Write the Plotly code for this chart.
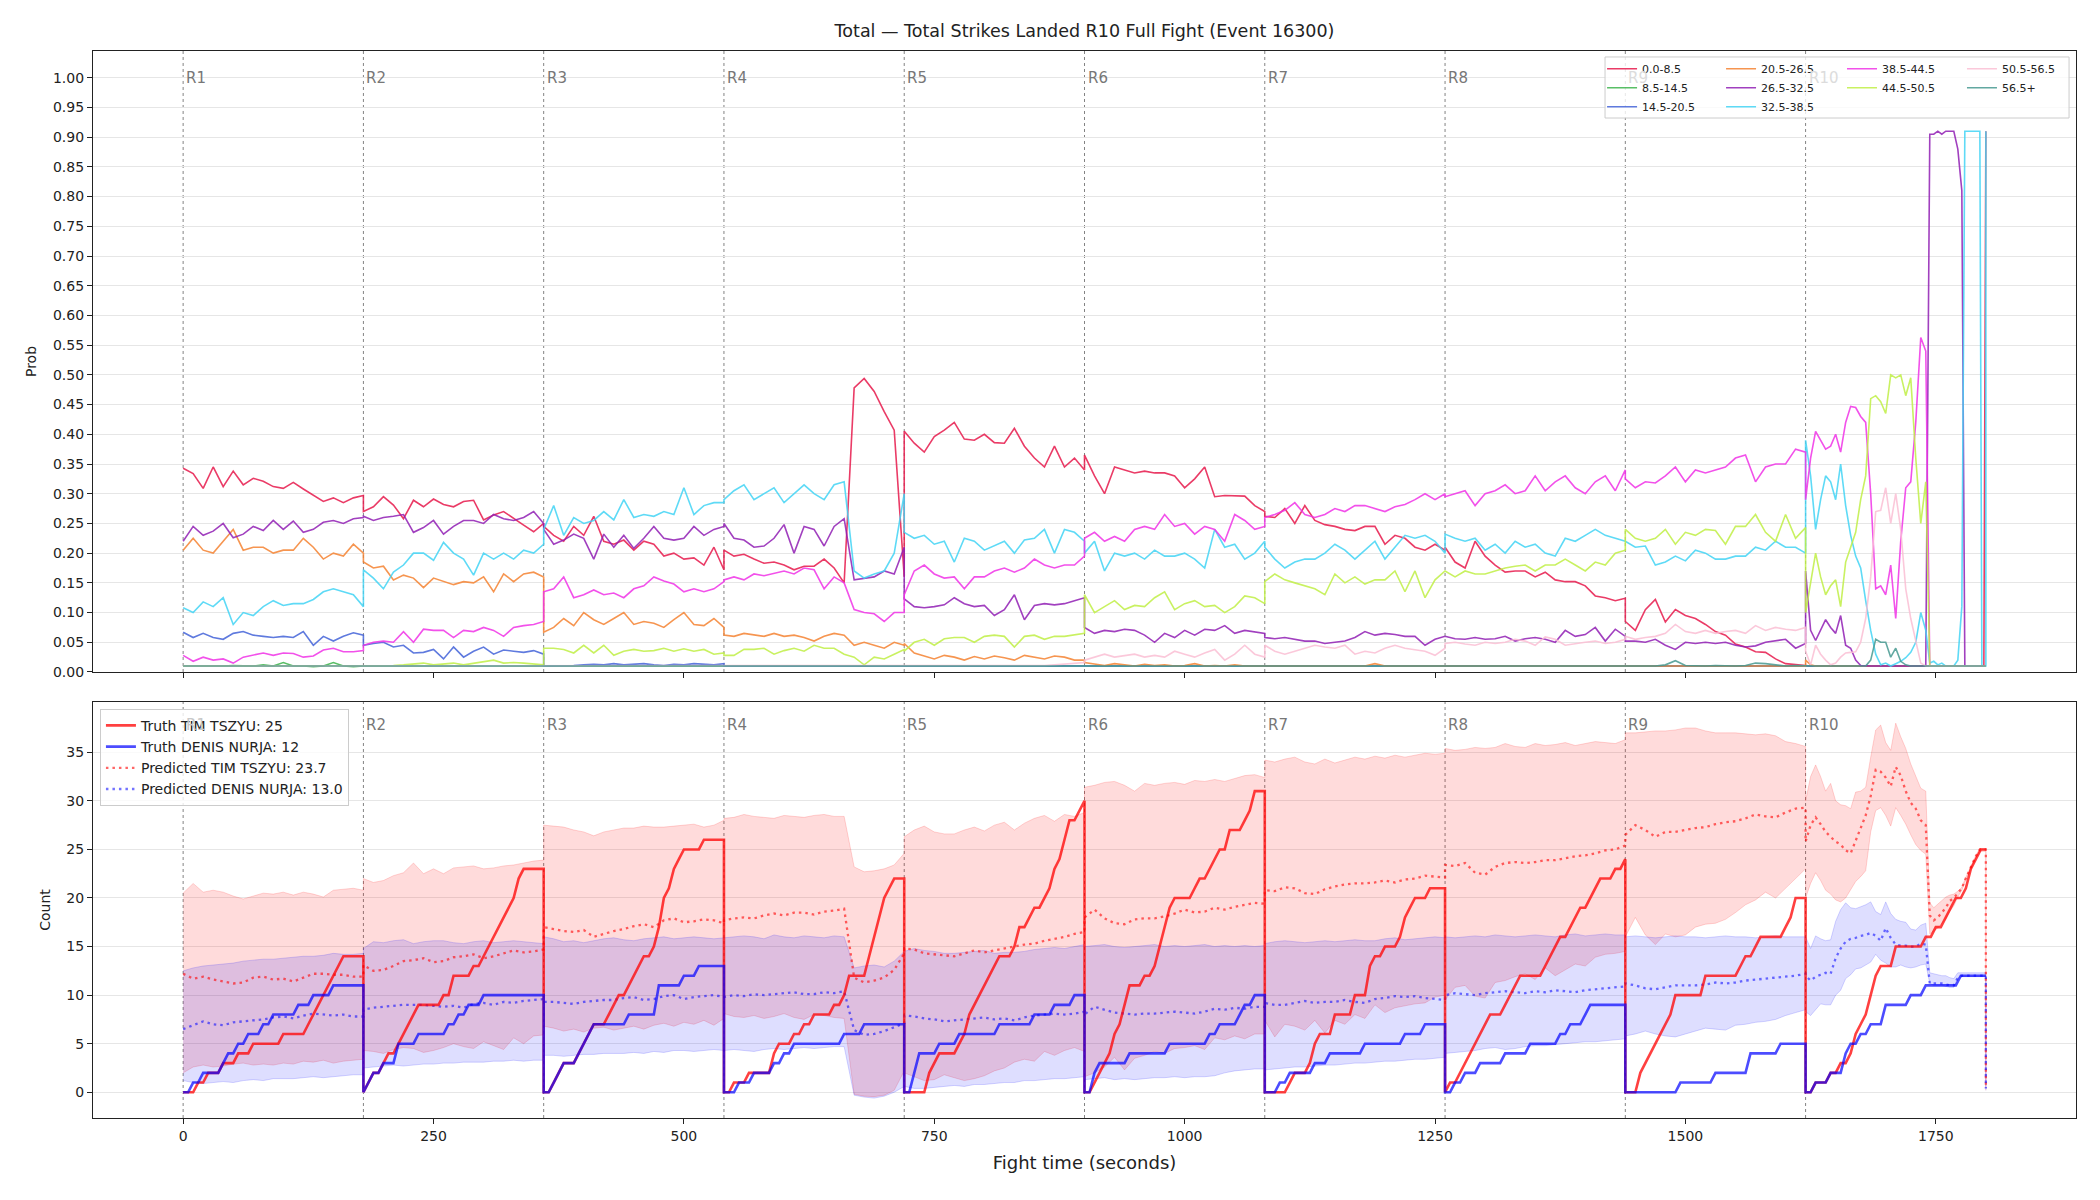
import plotly.graph_objects as go

# ---------------------------------------------------------------------------
# Time grids
# ---------------------------------------------------------------------------
round_starts = [0, 180, 360, 540, 720, 900, 1080, 1260, 1440, 1620]
round_names = ["R1", "R2", "R3", "R4", "R5", "R6", "R7", "R8", "R9", "R10"]
offsets_10s = [0, 10, 20, 30, 40, 50, 60, 70, 80, 90, 100, 110, 120, 130, 140, 150, 160, 170, 180]
r10_times = [1620, 1625, 1630, 1635, 1640, 1645, 1650, 1655, 1660, 1665, 1670, 1675, 1680,
             1685, 1690, 1695, 1700, 1705, 1710, 1715, 1720, 1725, 1730, 1735, 1740,
             1744, 1748, 1752, 1756, 1760, 1764, 1768, 1772, 1776, 1779, 1782, 1786, 1790,
             1794, 1796, 1798, 1800, 1800]
t_model = [s + o for s in round_starts[:9] for o in offsets_10s] + r10_times
truth_offsets = [0, 5, 10, 15, 20, 25, 30, 35, 40, 45, 50, 55, 60, 65, 70, 75, 80, 85, 90,
                 95, 100, 105, 110, 115, 120, 125, 130, 135, 140, 145, 150, 155, 160, 165,
                 170, 175, 180]

x_ticks = [0, 250, 500, 750, 1000, 1250, 1500, 1750]
y_ticks_top = [0.00, 0.05, 0.10, 0.15, 0.20, 0.25, 0.30, 0.35, 0.40, 0.45, 0.50, 0.55,
               0.60, 0.65, 0.70, 0.75, 0.80, 0.85, 0.90, 0.95, 1.00]
y_ticks_bottom = [0, 5, 10, 15, 20, 25, 30, 35]

# ---------------------------------------------------------------------------
# Probability of each total-strikes bin (top panel)
# ---------------------------------------------------------------------------
bins = ["0.0-8.5", "8.5-14.5", "14.5-20.5", "20.5-26.5", "26.5-32.5",
        "32.5-38.5", "38.5-44.5", "44.5-50.5", "50.5-56.5", "56.5+"]
bin_colors = ["rgba(230,25,75,0.85)", "rgba(60,180,75,0.85)", "rgba(67,99,216,0.85)",
              "rgba(245,130,49,0.85)", "rgba(145,30,180,0.85)", "rgba(66,212,244,0.85)",
              "rgba(240,50,230,0.85)", "rgba(191,239,69,0.85)", "rgba(250,190,212,0.85)",
              "rgba(70,153,144,0.85)"]

FLOOR_RD = [0.01, 0.01, 0.01, 0.01, 0.01, 0.01, 0.01, 0.01, 0.01, 0.01,
            0.01, 0.01, 0.01, 0.01, 0.01, 0.01, 0.01, 0.01, 0.01]
FLOOR_R10 = [0.01, 0.01, 0.01, 0.01, 0.01, 0.01, 0.01, 0.01, 0.01, 0.01, 0.01,
             0.01, 0.01, 0.01, 0.01, 0.01, 0.01, 0.01, 0.01, 0.01, 0.01, 0.01,
             0.01, 0.01, 0.01, 0.01, 0.01, 0.01, 0.01, 0.01, 0.01, 0.01, 0.01,
             0.01, 0.01, 0.01, 0.01, 0.01, 0.01, 0.01, 0.01, 0.01, 0.01]

prob_0_8 = [
    [0.343, 0.334, 0.309, 0.345, 0.312, 0.338, 0.315, 0.326, 0.321, 0.312, 0.309, 0.319, 0.308, 0.298, 0.287, 0.293, 0.285, 0.293, 0.297],
    [0.270, 0.278, 0.295, 0.281, 0.258, 0.289, 0.278, 0.291, 0.282, 0.278, 0.287, 0.289, 0.256, 0.264, 0.270, 0.258, 0.247, 0.236, 0.250],
    [0.245, 0.230, 0.220, 0.245, 0.230, 0.262, 0.220, 0.215, 0.222, 0.205, 0.220, 0.215, 0.195, 0.200, 0.190, 0.192, 0.180, 0.210, 0.172],
    [0.205, 0.195, 0.198, 0.190, 0.183, 0.185, 0.180, 0.172, 0.178, 0.178, 0.190, 0.175, 0.150, 0.478, 0.494, 0.472, 0.438, 0.407, 0.160],
    [0.405, 0.385, 0.370, 0.396, 0.407, 0.420, 0.392, 0.390, 0.400, 0.386, 0.385, 0.410, 0.380, 0.360, 0.345, 0.380, 0.345, 0.360, 0.340],
    [0.365, 0.330, 0.300, 0.345, 0.340, 0.335, 0.338, 0.335, 0.335, 0.330, 0.310, 0.325, 0.345, 0.295, 0.297, 0.297, 0.296, 0.280, 0.270],
    [0.262, 0.260, 0.275, 0.250, 0.280, 0.255, 0.248, 0.245, 0.240, 0.238, 0.245, 0.245, 0.215, 0.230, 0.225, 0.210, 0.205, 0.215, 0.205],
    [0.210, 0.185, 0.175, 0.220, 0.195, 0.180, 0.168, 0.170, 0.170, 0.160, 0.168, 0.155, 0.152, 0.152, 0.145, 0.128, 0.125, 0.120, 0.124],
    [0.085, 0.070, 0.105, 0.122, 0.084, 0.105, 0.095, 0.090, 0.080, 0.068, 0.062, 0.047, 0.042, 0.034, 0.033, 0.022, 0.014, 0.012, 0.010],
    [0.010, 0.010, 0.010, 0.010, 0.010, 0.010, 0.010, 0.010, 0.010, 0.010, 0.010, 0.010, 0.010, 0.010, 0.010, 0.010, 0.010, 0.010, 0.010, 0.010, 0.010, 0.010, 0.010, 0.010, 0.010]
    + [0.010, 0.010, 0.010, 0.010, 0.010, 0.010, 0.010, 0.010, 0.010, 0.010, 0.010, 0.010, 0.010, 0.010, 0.010, 0.010, 0.910, 0.910],
]
prob_8_14 = [
    [0.010, 0.010, 0.009, 0.010, 0.010, 0.011, 0.010, 0.010, 0.012, 0.010, 0.016, 0.010, 0.010, 0.009, 0.010, 0.016, 0.010, 0.009, 0.010],
    FLOOR_RD, FLOOR_RD, FLOOR_RD, FLOOR_RD, FLOOR_RD, FLOOR_RD, FLOOR_RD, FLOOR_RD, FLOOR_R10,
]
prob_14_20 = [
    [0.067, 0.058, 0.065, 0.058, 0.055, 0.065, 0.068, 0.062, 0.060, 0.058, 0.060, 0.058, 0.068, 0.045, 0.060, 0.052, 0.060, 0.066, 0.062],
    [0.045, 0.048, 0.050, 0.042, 0.045, 0.032, 0.033, 0.038, 0.022, 0.042, 0.025, 0.035, 0.042, 0.030, 0.037, 0.035, 0.033, 0.036, 0.030],
    [0.010, 0.010, 0.010, 0.011, 0.012, 0.013, 0.012, 0.014, 0.012, 0.013, 0.014, 0.012, 0.011, 0.013, 0.012, 0.014, 0.013, 0.012, 0.014],
    FLOOR_RD, FLOOR_RD, FLOOR_RD, FLOOR_RD, FLOOR_RD, FLOOR_RD, FLOOR_R10,
]
prob_20_26 = [
    [0.205, 0.225, 0.205, 0.200, 0.220, 0.240, 0.205, 0.210, 0.210, 0.200, 0.205, 0.205, 0.225, 0.210, 0.190, 0.200, 0.195, 0.215, 0.200],
    [0.185, 0.175, 0.178, 0.155, 0.163, 0.158, 0.142, 0.158, 0.152, 0.147, 0.152, 0.150, 0.160, 0.135, 0.165, 0.152, 0.165, 0.168, 0.160],
    [0.067, 0.075, 0.090, 0.078, 0.100, 0.088, 0.080, 0.090, 0.100, 0.080, 0.085, 0.082, 0.075, 0.088, 0.100, 0.080, 0.078, 0.090, 0.075],
    [0.062, 0.060, 0.065, 0.063, 0.060, 0.065, 0.060, 0.062, 0.058, 0.052, 0.060, 0.065, 0.062, 0.045, 0.050, 0.045, 0.040, 0.050, 0.045],
    [0.048, 0.032, 0.027, 0.022, 0.028, 0.025, 0.020, 0.026, 0.022, 0.027, 0.024, 0.020, 0.028, 0.025, 0.022, 0.027, 0.025, 0.020, 0.020],
    [0.016, 0.013, 0.011, 0.014, 0.012, 0.010, 0.013, 0.011, 0.012, 0.010, 0.011, 0.014, 0.010, 0.011, 0.010, 0.012, 0.010, 0.010, 0.010],
    [0.010, 0.010, 0.010, 0.010, 0.011, 0.010, 0.010, 0.010, 0.010, 0.010, 0.010, 0.014, 0.010, 0.010, 0.010, 0.010, 0.011, 0.010, 0.010],
    FLOOR_RD, FLOOR_RD,
    [0.020, 0.012, 0.010, 0.010, 0.010, 0.010, 0.010, 0.010, 0.010, 0.010, 0.010, 0.010, 0.010, 0.010, 0.010, 0.010, 0.010, 0.010, 0.010, 0.010, 0.010, 0.010, 0.010, 0.010, 0.010]
    + [0.010, 0.010, 0.010, 0.010, 0.010, 0.010, 0.010, 0.010, 0.010, 0.010, 0.010, 0.010, 0.010, 0.010, 0.010, 0.010, 0.010, 0.010],
]
prob_26_32 = [
    [0.220, 0.245, 0.230, 0.237, 0.250, 0.226, 0.232, 0.245, 0.238, 0.255, 0.240, 0.254, 0.235, 0.240, 0.252, 0.255, 0.250, 0.258, 0.260],
    [0.262, 0.255, 0.260, 0.262, 0.265, 0.235, 0.243, 0.255, 0.232, 0.245, 0.255, 0.255, 0.250, 0.265, 0.258, 0.255, 0.260, 0.270, 0.250],
    [0.240, 0.215, 0.222, 0.232, 0.225, 0.190, 0.232, 0.210, 0.230, 0.208, 0.225, 0.245, 0.225, 0.222, 0.225, 0.245, 0.230, 0.240, 0.245],
    [0.250, 0.225, 0.222, 0.210, 0.212, 0.225, 0.248, 0.200, 0.245, 0.240, 0.212, 0.245, 0.258, 0.155, 0.157, 0.160, 0.170, 0.165, 0.210],
    [0.123, 0.110, 0.108, 0.110, 0.113, 0.125, 0.115, 0.110, 0.112, 0.095, 0.105, 0.130, 0.088, 0.112, 0.115, 0.113, 0.115, 0.120, 0.125],
    [0.075, 0.065, 0.070, 0.068, 0.072, 0.070, 0.062, 0.050, 0.065, 0.058, 0.070, 0.062, 0.072, 0.070, 0.078, 0.065, 0.070, 0.068, 0.065],
    [0.058, 0.056, 0.058, 0.055, 0.052, 0.052, 0.048, 0.050, 0.052, 0.058, 0.068, 0.062, 0.065, 0.063, 0.060, 0.060, 0.045, 0.055, 0.060],
    [0.060, 0.056, 0.055, 0.058, 0.055, 0.056, 0.060, 0.052, 0.056, 0.058, 0.055, 0.050, 0.070, 0.060, 0.063, 0.075, 0.052, 0.072, 0.060],
    [0.052, 0.052, 0.050, 0.055, 0.045, 0.038, 0.050, 0.048, 0.050, 0.048, 0.050, 0.045, 0.042, 0.044, 0.050, 0.053, 0.055, 0.040, 0.048],
    [0.170, 0.070, 0.053, 0.070, 0.088, 0.075, 0.065, 0.095, 0.045, 0.040, 0.020, 0.011, 0.010, 0.010, 0.010, 0.010, 0.010, 0.010, 0.010, 0.010, 0.010, 0.010, 0.010, 0.010, 0.010]
    + [0.905, 0.905, 0.910, 0.905, 0.910, 0.910, 0.910, 0.880, 0.810, 0.010, 0.010, 0.010, 0.010, 0.010, 0.010, 0.010, 0.010, 0.010],
]
prob_32_38 = [
    [0.108, 0.100, 0.118, 0.110, 0.125, 0.080, 0.100, 0.095, 0.110, 0.120, 0.112, 0.115, 0.115, 0.122, 0.135, 0.140, 0.135, 0.130, 0.110],
    [0.172, 0.158, 0.140, 0.168, 0.180, 0.200, 0.200, 0.188, 0.218, 0.200, 0.190, 0.163, 0.200, 0.190, 0.200, 0.190, 0.205, 0.200, 0.215],
    [0.240, 0.280, 0.230, 0.260, 0.250, 0.255, 0.270, 0.256, 0.290, 0.260, 0.265, 0.262, 0.270, 0.265, 0.310, 0.265, 0.280, 0.285, 0.285],
    [0.290, 0.305, 0.315, 0.290, 0.300, 0.310, 0.285, 0.300, 0.315, 0.300, 0.290, 0.315, 0.320, 0.170, 0.158, 0.165, 0.170, 0.200, 0.300],
    [0.235, 0.225, 0.230, 0.215, 0.220, 0.185, 0.225, 0.220, 0.205, 0.212, 0.220, 0.200, 0.222, 0.225, 0.240, 0.200, 0.240, 0.235, 0.220],
    [0.200, 0.220, 0.170, 0.200, 0.195, 0.200, 0.190, 0.205, 0.195, 0.195, 0.200, 0.190, 0.175, 0.240, 0.210, 0.215, 0.190, 0.200, 0.220],
    [0.210, 0.190, 0.175, 0.185, 0.190, 0.190, 0.200, 0.215, 0.205, 0.190, 0.205, 0.220, 0.190, 0.210, 0.230, 0.225, 0.230, 0.220, 0.200],
    [0.232, 0.225, 0.220, 0.225, 0.205, 0.215, 0.200, 0.220, 0.210, 0.215, 0.200, 0.195, 0.225, 0.220, 0.230, 0.240, 0.230, 0.225, 0.220],
    [0.220, 0.210, 0.212, 0.180, 0.185, 0.195, 0.187, 0.205, 0.200, 0.190, 0.190, 0.195, 0.195, 0.210, 0.205, 0.220, 0.210, 0.210, 0.200],
    [0.390, 0.330, 0.240, 0.290, 0.330, 0.320, 0.290, 0.350, 0.280, 0.230, 0.195, 0.175, 0.120, 0.070, 0.030, 0.012, 0.015, 0.010, 0.014, 0.018, 0.024, 0.033, 0.050, 0.100, 0.070]
    + [0.015, 0.018, 0.012, 0.015, 0.010, 0.010, 0.010, 0.020, 0.110, 0.910, 0.910, 0.910, 0.910, 0.910, 0.010, 0.010, 0.010, 0.910],
]
prob_38_44 = [
    [0.028, 0.018, 0.025, 0.020, 0.022, 0.015, 0.025, 0.028, 0.032, 0.028, 0.032, 0.031, 0.025, 0.027, 0.037, 0.040, 0.034, 0.034, 0.036],
    [0.045, 0.050, 0.052, 0.050, 0.068, 0.050, 0.072, 0.070, 0.070, 0.058, 0.070, 0.068, 0.075, 0.070, 0.060, 0.075, 0.078, 0.080, 0.085],
    [0.135, 0.140, 0.160, 0.125, 0.130, 0.138, 0.130, 0.133, 0.125, 0.140, 0.145, 0.160, 0.153, 0.148, 0.135, 0.140, 0.135, 0.140, 0.152],
    [0.155, 0.160, 0.155, 0.165, 0.162, 0.166, 0.170, 0.165, 0.175, 0.172, 0.140, 0.160, 0.150, 0.105, 0.100, 0.098, 0.085, 0.100, 0.100],
    [0.130, 0.170, 0.180, 0.165, 0.158, 0.160, 0.140, 0.160, 0.160, 0.170, 0.175, 0.168, 0.175, 0.190, 0.180, 0.175, 0.180, 0.180, 0.195],
    [0.225, 0.235, 0.220, 0.228, 0.220, 0.240, 0.245, 0.240, 0.265, 0.245, 0.250, 0.232, 0.245, 0.240, 0.220, 0.265, 0.255, 0.240, 0.245],
    [0.260, 0.265, 0.272, 0.285, 0.265, 0.260, 0.265, 0.275, 0.270, 0.280, 0.280, 0.275, 0.270, 0.278, 0.282, 0.290, 0.300, 0.290, 0.300],
    [0.295, 0.300, 0.305, 0.280, 0.300, 0.305, 0.315, 0.300, 0.305, 0.330, 0.305, 0.320, 0.330, 0.310, 0.300, 0.320, 0.330, 0.305, 0.340],
    [0.325, 0.310, 0.320, 0.318, 0.330, 0.345, 0.320, 0.340, 0.335, 0.340, 0.345, 0.360, 0.365, 0.320, 0.345, 0.350, 0.350, 0.375, 0.370],
    [0.290, 0.360, 0.405, 0.390, 0.375, 0.380, 0.400, 0.370, 0.420, 0.447, 0.445, 0.430, 0.420, 0.300, 0.140, 0.145, 0.130, 0.180, 0.090, 0.220, 0.310, 0.320, 0.420, 0.563, 0.540]
    + [0.010, 0.010, 0.010, 0.010, 0.010, 0.010, 0.010, 0.010, 0.010, 0.010, 0.010, 0.010, 0.010, 0.010, 0.010, 0.010, 0.010, 0.010],
]
prob_44_50 = [
    FLOOR_RD,
    [0.010, 0.010, 0.010, 0.011, 0.012, 0.013, 0.015, 0.012, 0.014, 0.015, 0.012, 0.015, 0.018, 0.020, 0.015, 0.016, 0.015, 0.014, 0.012],
    [0.040, 0.040, 0.038, 0.032, 0.045, 0.032, 0.045, 0.028, 0.035, 0.038, 0.035, 0.036, 0.040, 0.035, 0.039, 0.035, 0.038, 0.030, 0.032],
    [0.028, 0.028, 0.038, 0.038, 0.040, 0.030, 0.036, 0.040, 0.035, 0.045, 0.040, 0.040, 0.030, 0.025, 0.012, 0.025, 0.022, 0.030, 0.038],
    [0.035, 0.050, 0.055, 0.045, 0.056, 0.058, 0.058, 0.050, 0.060, 0.062, 0.060, 0.042, 0.060, 0.062, 0.055, 0.060, 0.060, 0.062, 0.065],
    [0.130, 0.100, 0.110, 0.120, 0.105, 0.112, 0.110, 0.125, 0.135, 0.105, 0.115, 0.120, 0.110, 0.112, 0.100, 0.110, 0.128, 0.125, 0.115],
    [0.152, 0.165, 0.155, 0.150, 0.145, 0.140, 0.130, 0.165, 0.150, 0.160, 0.148, 0.155, 0.155, 0.170, 0.135, 0.170, 0.125, 0.155, 0.170],
    [0.170, 0.160, 0.170, 0.165, 0.165, 0.170, 0.175, 0.178, 0.180, 0.170, 0.180, 0.180, 0.190, 0.180, 0.170, 0.185, 0.180, 0.200, 0.205],
    [0.240, 0.225, 0.220, 0.225, 0.240, 0.215, 0.235, 0.230, 0.240, 0.238, 0.215, 0.245, 0.245, 0.265, 0.235, 0.220, 0.265, 0.225, 0.243],
    [0.100, 0.150, 0.200, 0.160, 0.130, 0.145, 0.155, 0.110, 0.185, 0.210, 0.235, 0.290, 0.330, 0.460, 0.465, 0.455, 0.435, 0.500, 0.495, 0.500, 0.465, 0.495, 0.360, 0.250, 0.320]
    + [0.010, 0.010, 0.010, 0.010, 0.010, 0.010, 0.010, 0.010, 0.010, 0.010, 0.010, 0.010, 0.010, 0.010, 0.010, 0.010, 0.010, 0.010],
]
prob_50_56 = [
    FLOOR_RD, FLOOR_RD, FLOOR_RD, FLOOR_RD,
    [0.010, 0.010, 0.010, 0.010, 0.010, 0.010, 0.010, 0.010, 0.010, 0.010, 0.010, 0.010, 0.010, 0.010, 0.011, 0.012, 0.013, 0.014, 0.016],
    [0.020, 0.025, 0.030, 0.025, 0.028, 0.030, 0.025, 0.028, 0.025, 0.035, 0.030, 0.025, 0.032, 0.038, 0.020, 0.030, 0.045, 0.030, 0.025],
    [0.045, 0.035, 0.030, 0.035, 0.040, 0.045, 0.042, 0.040, 0.045, 0.030, 0.035, 0.032, 0.040, 0.045, 0.040, 0.038, 0.035, 0.028, 0.040],
    [0.048, 0.050, 0.047, 0.045, 0.050, 0.048, 0.050, 0.055, 0.052, 0.045, 0.059, 0.055, 0.045, 0.048, 0.050, 0.052, 0.048, 0.050, 0.055],
    [0.060, 0.055, 0.058, 0.060, 0.065, 0.080, 0.068, 0.065, 0.070, 0.065, 0.068, 0.070, 0.065, 0.078, 0.070, 0.075, 0.072, 0.070, 0.075],
    [0.035, 0.012, 0.045, 0.030, 0.020, 0.012, 0.015, 0.025, 0.032, 0.033, 0.034, 0.050, 0.090, 0.160, 0.270, 0.272, 0.310, 0.250, 0.300, 0.240, 0.140, 0.090, 0.050, 0.015, 0.010]
    + [0.010, 0.010, 0.010, 0.010, 0.010, 0.010, 0.010, 0.010, 0.010, 0.010, 0.010, 0.010, 0.010, 0.010, 0.010, 0.010, 0.010, 0.010],
]
prob_56_plus = [
    FLOOR_RD, FLOOR_RD, FLOOR_RD, FLOOR_RD, FLOOR_RD, FLOOR_RD, FLOOR_RD, FLOOR_RD,
    [0.010, 0.010, 0.011, 0.010, 0.012, 0.019, 0.011, 0.010, 0.010, 0.011, 0.010, 0.010, 0.011, 0.015, 0.014, 0.012, 0.010, 0.011, 0.010],
    [0.010, 0.010, 0.010, 0.010, 0.010, 0.010, 0.010, 0.010, 0.010, 0.010, 0.010, 0.010, 0.010, 0.020, 0.055, 0.050, 0.050, 0.025, 0.040, 0.018, 0.012, 0.010, 0.010, 0.010, 0.010]
    + [0.010, 0.010, 0.010, 0.010, 0.010, 0.010, 0.010, 0.010, 0.010, 0.010, 0.010, 0.010, 0.010, 0.010, 0.010, 0.010, 0.010, 0.010],
]
prob_series = [prob_0_8, prob_8_14, prob_14_20, prob_20_26, prob_26_32,
               prob_32_38, prob_38_44, prob_44_50, prob_50_56, prob_56_plus]
legend_of_bin = ["legend", "legend", "legend", "legend2", "legend2",
                 "legend2", "legend3", "legend3", "legend4", "legend4"]

# ---------------------------------------------------------------------------
# Bottom panel: truth (strike times, seconds into each round) and predictions
# ---------------------------------------------------------------------------
tszyu_strike_times = [
    [11, 25, 40, 55, 67, 96, 125, 128, 132, 139, 143, 149, 154, 160],
    [3, 9, 20, 25, 31, 39, 44, 49, 53, 78, 88, 90, 108, 117, 124, 129, 133, 138, 143, 148, 151, 155, 159],
    [6, 14, 19, 35, 39, 43, 47, 64, 68, 72, 81, 86, 91, 96, 108, 111, 114, 117, 118, 120, 122, 126, 129, 132, 140, 156],
    [10, 25, 46, 49, 51, 68, 78, 88, 107, 116, 121, 124, 141, 143, 146, 149, 152, 154, 158, 160, 165, 170],
    [22, 25, 29, 34, 53, 58, 62, 65, 69, 73, 77, 84, 88, 92, 110, 113, 115, 121, 128, 138, 145, 148, 150, 152, 156, 158, 161, 165, 172, 177],
    [8, 13, 18, 23, 27, 30, 33, 36, 38, 41, 45, 60, 66, 71, 74, 76, 78, 81, 84, 88, 107, 111, 124, 127, 134, 141, 145, 159, 163, 166, 169],
    [22, 26, 44, 46, 50, 53, 67, 70, 87, 90, 101, 103, 105, 108, 119, 133, 136, 138, 142, 147, 162],
    [5, 15, 20, 25, 30, 34, 40, 45, 57, 62, 68, 75, 97, 101, 109, 115, 122, 128, 135, 144, 149, 154, 166, 176],
    [11, 15, 19, 24, 28, 31, 38, 43, 46, 49, 78, 80, 114, 117, 130, 133, 158, 164, 166, 169],
    [6, 23, 35, 44, 46, 49, 53, 58, 62, 65, 68, 70, 72, 86, 88, 116, 127, 137, 142, 150, 157, 161, 165, 170, 173],
]
nurja_strike_times = [
    [6, 18, 39, 45, 52, 64, 78, 90, 114, 130, 148],
    [3, 10, 20, 32, 35, 54, 82, 95, 104, 119],
    [6, 14, 19, 35, 39, 43, 47, 84, 112, 113, 114, 137, 152],
    [13, 30, 46, 56, 70, 118, 138],
    [8, 10, 12, 14, 34, 53, 92, 128, 150, 167],
    [7, 10, 13, 45, 83, 124, 133, 152, 160, 170],
    [12, 24, 48, 65, 97, 138, 157],
    [8, 18, 35, 59, 82, 112, 125, 137, 144],
    [51, 88, 121, 122, 153],
    [6, 23, 37, 39, 43, 53, 63, 76, 78, 101, 116, 152],
]

pred_tszyu = [
    [12.2, 11.7, 11.9, 11.6, 11.4, 11.2, 11.3, 11.8, 11.9, 11.6, 11.7, 11.4, 11.8, 12.2, 12.2, 12.1, 12.1, 11.9, 11.9],
    [13.1, 12.5, 12.6, 13.0, 13.5, 13.6, 13.8, 13.4, 13.5, 13.9, 14.0, 14.2, 13.8, 14.0, 14.3, 14.6, 14.4, 14.5, 14.7],
    [17.0, 16.8, 16.6, 16.5, 16.7, 16.0, 16.3, 16.6, 16.8, 17.1, 17.3, 17.0, 17.7, 17.9, 17.5, 17.6, 17.8, 17.7, 17.4],
    [17.7, 17.9, 18.0, 17.9, 18.2, 18.4, 18.2, 18.5, 18.5, 18.3, 18.6, 18.7, 18.9, 11.8, 11.3, 11.5, 11.8, 12.6, 14.3],
    [14.8, 14.7, 14.3, 14.2, 14.1, 14.0, 14.3, 14.6, 14.4, 14.6, 14.8, 15.0, 15.2, 15.3, 15.6, 15.8, 16.0, 16.3, 16.5],
    [18.0, 18.8, 17.9, 17.4, 17.3, 17.8, 17.9, 17.9, 18.1, 18.4, 18.8, 18.5, 18.6, 19.0, 18.8, 19.1, 19.3, 19.5, 19.4],
    [20.8, 20.7, 21.1, 21.0, 20.5, 20.4, 20.9, 21.2, 21.4, 21.5, 21.5, 21.6, 21.8, 21.6, 21.9, 22.0, 22.3, 22.2, 22.1],
    [23.4, 23.3, 23.6, 22.6, 22.4, 23.2, 23.6, 23.7, 23.6, 23.7, 23.9, 23.9, 24.1, 24.3, 24.4, 24.6, 24.9, 25.0, 25.4],
    [26.5, 27.5, 27.0, 26.3, 26.8, 26.8, 27.0, 27.2, 27.3, 27.6, 27.8, 27.9, 28.2, 28.6, 28.4, 28.3, 28.8, 29.2, 29.3],
    [25.8, 27.5, 28.3, 27.6, 26.8, 26.3, 25.8, 25.5, 24.9, 24.6, 26.0, 27.2, 28.5, 30.5, 33.2, 33.0, 32.4, 31.5, 33.5, 32.6, 31.0, 29.8, 29.2, 28.0, 27.5]
    + [18.2, 17.7, 18.0, 18.5, 19.0, 19.7, 20.0, 20.5, 21.0, 21.8, 22.5, 23.5, 24.3, 25.0, 25.0, 25.0, 25.0, 0.4],
]
pred_nurja = [
    [6.5, 6.9, 7.3, 7.0, 6.9, 7.2, 7.3, 7.4, 7.5, 7.7, 7.8, 7.6, 7.9, 8.1, 8.0, 7.9, 8.0, 7.8, 7.8],
    [8.5, 8.7, 8.8, 8.9, 9.0, 9.0, 9.0, 8.9, 8.8, 8.9, 8.7, 9.1, 9.2, 9.0, 9.3, 9.2, 9.4, 9.5, 9.6],
    [9.3, 9.3, 9.2, 9.1, 9.3, 9.4, 9.5, 9.5, 9.7, 9.8, 9.5, 9.6, 9.9, 10.0, 9.6, 9.8, 9.9, 10.0, 9.8],
    [9.8, 10.0, 9.9, 10.1, 10.0, 10.1, 10.2, 10.3, 10.1, 10.1, 10.3, 10.2, 10.4, 6.4, 5.9, 6.0, 6.3, 6.7, 7.1],
    [7.9, 7.8, 7.6, 7.5, 7.3, 7.4, 7.5, 7.6, 7.7, 7.5, 7.6, 7.4, 7.7, 7.9, 8.0, 8.1, 8.0, 8.1, 8.3],
    [8.0, 8.8, 8.5, 8.2, 8.1, 8.0, 8.1, 8.1, 8.2, 8.3, 8.2, 8.1, 8.3, 8.6, 8.5, 8.7, 8.6, 8.8, 8.8],
    [9.2, 9.0, 9.0, 9.2, 9.4, 9.2, 9.3, 9.3, 9.5, 9.3, 9.2, 9.6, 9.7, 9.9, 9.8, 9.9, 9.7, 9.6, 9.5],
    [10.0, 10.2, 10.1, 10.0, 10.2, 10.3, 10.4, 10.3, 10.2, 10.4, 10.3, 10.5, 10.4, 10.3, 10.5, 10.6, 10.7, 10.8, 10.9],
    [11.2, 11.0, 10.7, 10.6, 10.8, 11.0, 11.0, 11.0, 11.1, 11.3, 11.2, 11.3, 11.5, 11.6, 11.7, 11.8, 11.9, 12.0, 12.2],
    [12.0, 11.5, 11.9, 12.1, 12.3, 12.2, 13.8, 14.8, 15.5, 15.8, 15.9, 16.1, 16.2, 16.4, 16.1, 15.6, 16.9, 15.9, 15.2, 15.1, 15.1, 15.0, 15.0, 15.3, 15.2]
    + [11.2, 11.2, 11.2, 11.2, 11.1, 11.0, 11.0, 11.8, 12.0, 12.0, 12.0, 12.0, 12.0, 12.0, 12.0, 12.0, 12.0, 0.4],
]
tszyu_band_high = [
    [20.5, 21.5, 20.6, 20.8, 20.6, 20.2, 19.9, 20.2, 20.5, 20.4, 20.6, 20.3, 20.6, 20.4, 20.1, 20.8, 20.9, 21.0, 20.8],
    [22.0, 21.6, 21.8, 22.3, 22.6, 23.6, 22.5, 23.0, 22.5, 23.1, 23.2, 23.3, 23.0, 23.1, 23.3, 23.4, 23.6, 23.8, 23.9],
    [27.5, 27.4, 27.3, 27.0, 26.8, 26.4, 26.8, 27.0, 27.2, 27.2, 27.4, 27.3, 27.3, 27.4, 27.5, 27.6, 27.3, 27.5, 28.0],
    [28.2, 28.3, 28.6, 28.4, 28.3, 28.2, 28.5, 28.4, 28.3, 28.5, 28.6, 28.4, 28.4, 23.2, 22.7, 22.8, 23.0, 23.4, 24.6],
    [26.3, 27.0, 27.4, 26.8, 26.6, 26.6, 27.0, 27.3, 26.9, 27.5, 27.8, 27.0, 27.7, 28.2, 28.5, 27.9, 28.6, 28.4, 28.8],
    [31.4, 31.6, 31.9, 32.0, 31.6, 31.0, 31.8, 31.6, 31.8, 31.9, 31.7, 32.1, 32.0, 32.2, 32.0, 32.3, 32.6, 32.7, 32.4],
    [34.2, 34.0, 34.3, 34.5, 34.0, 33.8, 34.3, 33.9, 34.2, 34.5, 34.3, 34.6, 34.4, 34.7, 34.5, 34.7, 34.9, 34.8, 34.9],
    [35.4, 35.2, 35.3, 35.5, 35.4, 35.5, 35.9, 35.6, 35.5, 35.9, 35.7, 35.8, 36.0, 35.7, 35.9, 36.1, 36.0, 35.9, 36.3],
    [37.0, 37.0, 37.1, 37.2, 37.2, 37.3, 37.5, 37.5, 37.2, 37.0, 37.0, 37.0, 36.9, 36.8, 36.9, 36.7, 36.1, 35.9, 35.6],
    [30.0, 32.5, 33.7, 32.5, 31.0, 31.8, 30.0, 29.6, 29.5, 29.2, 30.9, 31.0, 31.4, 34.5, 37.3, 37.8, 36.0, 35.2, 38.0, 36.6, 35.4, 33.8, 32.5, 31.3, 31.0]
    + [19.5, 19.0, 19.4, 19.8, 20.1, 20.3, 20.4, 20.7, 21.1, 21.9, 22.6, 23.6, 24.4, 25.1, 25.1, 25.1, 25.1, 0.6],
]
tszyu_band_low = [
    [2.0, 2.6, 2.8, 2.6, 2.7, 2.9, 3.0, 2.8, 2.9, 2.8, 3.0, 2.9, 3.2, 3.1, 3.3, 3.0, 3.2, 3.3, 3.4],
    [4.3, 4.2, 4.0, 4.4, 4.6, 4.5, 4.1, 4.3, 4.6, 5.0, 4.7, 4.5, 5.2, 4.8, 4.4, 5.6, 5.0, 5.8, 5.9],
    [6.8, 6.6, 6.3, 6.5, 6.2, 6.6, 6.7, 6.4, 6.6, 6.8, 6.5, 6.9, 7.1, 6.8, 7.2, 7.0, 7.4, 6.9, 7.6],
    [8.1, 7.8, 7.7, 7.9, 7.6, 7.8, 8.1, 7.7, 7.5, 8.0, 7.9, 7.7, 7.6, -0.2, -0.4, -0.45, -0.3, 0.2, 2.2],
    [2.0, 1.6, 1.2, 1.3, 1.8, 1.5, 1.2, 1.4, 1.7, 2.2, 2.5, 3.1, 3.4, 3.2, 4.2, 3.8, 4.3, 4.6, 4.2],
    [1.6, 2.0, 2.6, 3.6, 2.3, 3.5, 3.8, 4.2, 4.0, 4.5, 4.6, 4.8, 4.4, 5.6, 5.4, 5.8, 5.5, 6.0, 6.0],
    [7.4, 5.7, 7.0, 6.8, 6.4, 7.4, 6.1, 7.4, 7.0, 8.0, 7.6, 9.0, 8.2, 8.7, 8.9, 9.1, 9.2, 9.8, 10.0],
    [9.5, 10.8, 11.0, 9.9, 9.7, 11.3, 11.5, 11.9, 12.2, 11.6, 12.8, 12.0, 12.6, 13.2, 13.0, 13.9, 14.2, 14.3, 14.5],
    [16.0, 18.0, 16.2, 15.2, 16.3, 16.0, 16.2, 17.0, 17.3, 17.4, 17.8, 18.5, 19.3, 19.8, 20.6, 20.0, 21.0, 22.0, 23.0],
    [20.0, 21.5, 22.6, 21.8, 20.8, 20.4, 19.8, 19.6, 20.0, 20.8, 21.7, 22.2, 22.8, 26.8, 29.0, 29.3, 28.5, 27.4, 29.3, 28.5, 27.6, 26.5, 25.5, 24.9, 24.5]
    + [16.3, 16.6, 16.9, 17.4, 17.8, 18.6, 19.2, 20.1, 20.8, 21.6, 22.3, 23.3, 24.1, 24.8, 24.8, 24.8, 24.8, 0.2],
]
nurja_band_high = [
    [12.5, 12.8, 13.0, 13.1, 13.2, 13.3, 13.5, 13.6, 13.7, 13.7, 13.8, 13.9, 14.0, 14.0, 14.1, 14.3, 14.2, 14.2, 14.3],
    [14.8, 15.5, 15.4, 15.6, 15.7, 15.3, 15.5, 15.6, 15.6, 15.4, 15.3, 15.5, 15.6, 15.4, 15.5, 15.6, 15.5, 15.4, 15.3],
    [16.0, 15.8, 15.5, 15.6, 15.4, 15.6, 15.8, 15.9, 15.7, 15.6, 15.8, 15.9, 16.0, 15.8, 15.9, 16.0, 15.9, 15.8, 15.9],
    [15.9, 16.0, 16.1, 16.0, 15.8, 16.2, 16.0, 15.9, 16.1, 16.0, 15.9, 16.1, 16.0, 12.8, 13.0, 13.1, 12.9, 13.5, 14.5],
    [14.5, 14.8, 14.6, 14.5, 14.3, 14.3, 14.4, 14.5, 14.6, 14.3, 14.4, 14.4, 14.5, 14.7, 14.8, 14.9, 14.8, 15.0, 15.2],
    [15.0, 15.1, 15.2, 15.0, 14.9, 15.0, 15.1, 15.2, 15.0, 15.1, 15.0, 15.1, 15.2, 15.0, 15.1, 15.0, 15.1, 15.0, 15.1],
    [15.3, 15.5, 15.6, 15.5, 15.4, 15.5, 15.6, 15.5, 15.6, 15.7, 15.6, 15.6, 15.8, 15.9, 15.7, 15.8, 15.9, 16.0, 15.9],
    [16.0, 15.9, 16.0, 16.1, 16.0, 16.2, 16.1, 16.0, 16.1, 16.2, 16.1, 16.0, 16.2, 16.3, 16.1, 16.2, 16.3, 16.2, 16.2],
    [16.0, 16.1, 16.0, 15.9, 16.0, 16.1, 16.0, 16.0, 15.9, 16.0, 16.1, 16.0, 16.0, 15.9, 16.0, 16.1, 16.0, 16.0, 16.0],
    [16.0, 14.8, 16.1, 15.8, 15.6, 15.7, 17.6, 18.8, 19.5, 19.0, 18.9, 19.1, 19.3, 19.6, 18.6, 18.3, 19.6, 18.4, 17.8, 17.6, 17.5, 16.8, 16.7, 17.2, 17.4]
    + [12.3, 12.2, 12.1, 12.0, 12.0, 11.8, 11.7, 12.3, 12.3, 12.3, 12.3, 12.3, 12.3, 12.3, 12.3, 12.3, 12.3, 0.5],
]
nurja_band_low = [
    [1.2, 1.0, 0.9, 1.0, 1.1, 1.0, 1.2, 1.3, 1.2, 1.4, 1.4, 1.4, 1.5, 1.6, 1.5, 1.6, 1.7, 1.8, 1.8],
    [2.5, 2.6, 2.7, 2.8, 2.7, 2.8, 2.9, 2.9, 3.0, 3.0, 3.1, 3.1, 3.1, 3.2, 3.2, 3.3, 3.2, 3.3, 3.3],
    [3.8, 3.8, 3.7, 3.8, 3.9, 3.9, 4.0, 4.0, 4.0, 4.1, 4.0, 4.2, 4.1, 4.3, 4.3, 4.2, 4.3, 4.4, 4.3],
    [4.3, 4.4, 4.3, 4.2, 4.4, 4.5, 4.4, 4.5, 4.6, 4.5, 4.6, 4.7, 4.7, -0.3, -0.5, -0.6, -0.4, 0.0, 0.6],
    [0.6, 0.4, 0.4, 0.5, 0.6, 0.7, 0.6, 0.8, 0.8, 0.9, 1.0, 1.0, 1.2, 1.2, 1.3, 1.4, 1.4, 1.5, 1.6],
    [1.3, 1.4, 1.5, 1.3, 1.4, 1.3, 1.4, 1.5, 1.5, 1.6, 1.5, 1.6, 1.6, 1.7, 2.0, 2.2, 2.3, 2.4, 2.4],
    [2.3, 2.4, 2.5, 2.6, 2.6, 2.7, 2.8, 2.8, 2.9, 3.0, 3.0, 3.1, 3.2, 3.2, 3.3, 3.4, 3.4, 3.5, 3.6],
    [4.0, 4.1, 4.2, 4.3, 4.5, 4.6, 4.4, 4.5, 4.7, 4.8, 4.8, 4.9, 5.0, 5.1, 5.2, 5.2, 5.3, 5.4, 5.5],
    [5.8, 6.0, 6.3, 6.0, 5.8, 5.7, 6.0, 6.3, 6.6, 6.5, 6.4, 6.9, 7.0, 7.2, 7.3, 7.5, 7.9, 8.2, 8.5],
    [8.3, 7.9, 8.5, 9.1, 9.0, 9.0, 10.0, 10.5, 11.7, 12.1, 12.7, 12.8, 13.1, 13.4, 14.2, 13.6, 13.3, 12.9, 12.9, 13.1, 12.9, 12.8, 12.9, 13.1, 13.2]
    + [11.2, 11.0, 11.0, 11.0, 10.9, 10.8, 10.8, 11.8, 11.9, 11.9, 11.9, 11.9, 11.9, 11.9, 11.9, 11.9, 11.9, 0.2],
]

legend_labels = ["Truth TIM TSZYU: 25", "Truth DENIS NURJA: 12",
                 "Predicted TIM TSZYU: 23.7", "Predicted DENIS NURJA: 13.0"]


def flat(rounds):
    out = [v for rd in rounds for v in rd]
    if len(out) != len(t_model):
        raise ValueError("series length %d != grid %d" % (len(out), len(t_model)))
    return out


def truth_counts(strike_times):
    xs, ys = [], []
    for start, ev in zip(round_starts, strike_times):
        for o in truth_offsets:
            xs.append(start + o)
            ys.append(sum(1 for e in ev if e <= o))
    return xs, ys


FONT = "DejaVu Sans"
fig = go.Figure()

# ---- top panel lines ----
for name, col, rounds, leg in zip(bins, bin_colors, prob_series, legend_of_bin):
    fig.add_trace(go.Scatter(x=t_model, y=flat(rounds), mode="lines", name=name,
                             line=dict(color=col, width=1.6), xaxis="x", yaxis="y",
                             legend=leg, hoverinfo="skip"))

# ---- bottom panel bands ----
for lo, hi, fillc, edgec in [
        (tszyu_band_low, tszyu_band_high, "rgba(255,0,0,0.14)", "rgba(255,0,0,0.16)"),
        (nurja_band_low, nurja_band_high, "rgba(0,0,255,0.13)", "rgba(0,0,255,0.16)")]:
    fig.add_trace(go.Scatter(x=t_model, y=flat(lo), mode="lines", line=dict(color=edgec, width=1),
                             xaxis="x2", yaxis="y2", showlegend=False, hoverinfo="skip"))
    fig.add_trace(go.Scatter(x=t_model, y=flat(hi), mode="lines", line=dict(color=edgec, width=1),
                             fill="tonexty", fillcolor=fillc,
                             xaxis="x2", yaxis="y2", showlegend=False, hoverinfo="skip"))

# ---- predicted ----
fig.add_trace(go.Scatter(x=t_model, y=flat(pred_tszyu), mode="lines", name=legend_labels[2],
                         line=dict(color="rgba(255,0,0,0.6)", width=2.3, dash="2.5px,4px"),
                         xaxis="x2", yaxis="y2", legend="legend5", legendrank=3))
fig.add_trace(go.Scatter(x=t_model, y=flat(pred_nurja), mode="lines", name=legend_labels[3],
                         line=dict(color="rgba(0,0,255,0.55)", width=2.3, dash="2.5px,4px"),
                         xaxis="x2", yaxis="y2", legend="legend5", legendrank=4))

# ---- truth ----
tx, ty = truth_counts(tszyu_strike_times)
fig.add_trace(go.Scatter(x=tx, y=ty, mode="lines", name=legend_labels[0],
                         line=dict(color="rgba(255,0,0,0.75)", width=2.6),
                         xaxis="x2", yaxis="y2", legend="legend5", legendrank=1))
nx, ny = truth_counts(nurja_strike_times)
fig.add_trace(go.Scatter(x=nx, y=ny, mode="lines", name=legend_labels[1],
                         line=dict(color="rgba(0,0,255,0.7)", width=2.6),
                         xaxis="x2", yaxis="y2", legend="legend5", legendrank=2))

# ---- round markers ----
shapes, annotations = [], []
for i, (s, nm) in enumerate(zip(round_starts, round_names)):
    for xr, yr in (("x", "y domain"), ("x2", "y2 domain")):
        shapes.append(dict(type="line", xref=xr, yref=yr, x0=s, x1=s, y0=0, y1=1,
                           line=dict(color="rgba(90,90,90,0.75)", width=1, dash="dot"),
                           layer="below"))
    top_col = "#dcdcdc" if nm in ("R9", "R10") else "#777777"
    bot_col = "#c8c8c8" if nm == "R1" else "#777777"
    annotations.append(dict(x=s, y=0.974, xref="x", yref="y domain", text=nm, showarrow=False,
                            xanchor="left", yanchor="top", xshift=1,
                            font=dict(family=FONT, size=15, color=top_col)))
    annotations.append(dict(x=s, y=0.97, xref="x2", yref="y2 domain", text=nm, showarrow=False,
                            xanchor="left", yanchor="top", xshift=1,
                            font=dict(family=FONT, size=15, color=bot_col)))

# legend frame for the 4-column top legend
shapes.append(dict(type="rect", xref="paper", yref="paper", x0=0.7625, x1=0.9965,
                   y0=0.9372, y1=0.9944, fillcolor="rgba(255,255,255,0.8)",
                   line=dict(color="#cccccc", width=1), layer="above"))

axis_common = dict(showline=True, linecolor="#222222", linewidth=1.3, mirror=True,
                   ticks="outside", ticklen=5, tickwidth=1.2, tickcolor="#222222",
                   zeroline=False, tickfont=dict(family=FONT, size=14, color="#222222"))
top_leg = dict(bgcolor="rgba(0,0,0,0)", borderwidth=0, orientation="v", xanchor="left",
               yanchor="top", y=0.997, tracegroupgap=0, itemwidth=30, traceorder="normal",
               font=dict(family=FONT, size=11, color="#222222"))

fig.update_layout(
    width=2100, height=1200,
    margin=dict(l=93, r=24, t=51, b=82),
    paper_bgcolor="white", plot_bgcolor="white",
    font=dict(family=FONT, size=14, color="#222222"),
    title=dict(text="Total \u2014 Total Strikes Landed R10 Full Fight (Event 16300)",
               x=0.5, xref="paper", xanchor="center", y=1 - 31 / 1200, yref="container",
               yanchor="middle", font=dict(family=FONT, size=17.5, color="#222222")),
    xaxis=dict(domain=[0, 1], anchor="y", range=[-90, 1890], tickvals=x_ticks,
               showticklabels=False, showgrid=False, **axis_common),
    yaxis=dict(domain=[0.418, 1.0], anchor="x", range=[0, 1.045], tickvals=y_ticks_top,
               tickformat=".2f", showgrid=True, gridcolor="#e6e6e6", gridwidth=1,
               title=dict(text="Prob", standoff=12, font=dict(family=FONT, size=14)),
               **axis_common),
    xaxis2=dict(domain=[0, 1], anchor="y2", range=[-90, 1890], tickvals=x_ticks,
                showgrid=False,
                title=dict(text="Fight time (seconds)", standoff=13,
                           font=dict(family=FONT, size=18)),
                **axis_common),
    yaxis2=dict(domain=[0, 0.3899], anchor="x2", range=[-2.65, 40.18], tickvals=y_ticks_bottom,
                showgrid=True, gridcolor="#e6e6e6", gridwidth=1,
                title=dict(text="Count", standoff=12, font=dict(family=FONT, size=14)),
                **axis_common),
    legend=dict(x=0.761, **top_leg),
    legend2=dict(x=0.821, **top_leg),
    legend3=dict(x=0.882, **top_leg),
    legend4=dict(x=0.9425, **top_leg),
    legend5=dict(x=0.0035, y=0.3835, xanchor="left", yanchor="top", orientation="v",
                 bgcolor="rgba(255,255,255,0.8)", bordercolor="#cccccc", borderwidth=1,
                 tracegroupgap=0, itemwidth=30,
                 font=dict(family=FONT, size=14, color="#222222")),
    shapes=shapes,
    annotations=annotations,
)

fig.write_html("out.html")
